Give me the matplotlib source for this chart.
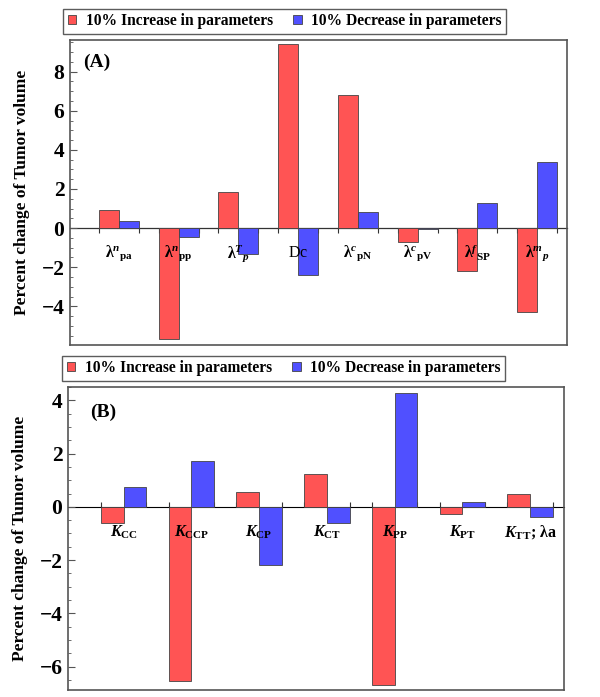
"""Чувствительность объёма опухоли к параметрам: две панели (A) и (B)."""

import matplotlib

matplotlib.use("Agg")

import matplotlib.pyplot as plt
import numpy as np
from matplotlib.ticker import MultipleLocator, AutoMinorLocator

plt.rcParams["font.family"] = ["Liberation Serif", "DejaVu Serif"]
plt.rcParams["mathtext.fontset"] = "custom"
plt.rcParams["mathtext.rm"] = "Liberation Serif"
plt.rcParams["mathtext.it"] = "Liberation Serif:italic:bold"
plt.rcParams["mathtext.bf"] = "Liberation Serif:bold"

# --- данные ---
labels_a = [
    r"$\mathbf{\lambda}^{n}{}_{\mathbf{pa}}$",
    r"$\mathbf{\lambda}^{n}{}_{\mathbf{pp}}$",
    r"$\mathbf{\lambda}^{T}{}_{p}$",
    r"$\mathrm{Dc}$",
    r"$\mathbf{\lambda}^{c}{}_{\mathbf{pN}}$",
    r"$\mathbf{\lambda}^{c}{}_{\mathbf{pV}}$",
    r"$\mathbf{\lambda}^{f}{}_{\mathbf{SP}}$",
    r"$\mathbf{\lambda}^{m}{}_{p}$",
]
increase_a = [0.92, -5.65, 1.85, 9.4, 6.79, -0.73, -2.2, -4.28]
decrease_a = [0.35, -0.48, -1.3, -2.4, 0.82, -0.04, 1.30, 3.38]

labels_b = [
    r"$K_{\mathbf{CC}}$",
    r"$K_{\mathbf{CCP}}$",
    r"$K_{\mathbf{CP}}$",
    r"$K_{\mathbf{CT}}$",
    r"$K_{\mathbf{PP}}$",
    r"$K_{\mathbf{PT}}$",
    r"$K_{\mathbf{TT}}$; λa",
]
increase_b = [-0.6, -6.55, 0.55, 1.25, -6.68, -0.27, 0.5]
decrease_b = [0.73, 1.72, -2.18, -0.6, 4.28, 0.19, -0.37]

legend_labels = ["10% Increase in parameters", "10% Decrease in parameters"]

RED = "#ff5454"
BLUE = "#5050ff"
FRAME = "#555555"


def draw_panel(ax, labels, inc, dec, ylim, tag, tag_pos, legend_x):
    n = len(labels)
    x = np.arange(n)
    w = 0.335

    b1 = ax.bar(x - w / 2, inc, w, color=RED, edgecolor="#444444", linewidth=0.6,
                label=legend_labels[0], zorder=2)
    b2 = ax.bar(x + w / 2, dec, w, color=BLUE, edgecolor="#444444", linewidth=0.6,
                label=legend_labels[1], zorder=2)

    ax.set_xlim(-0.82, n - 0.5)
    ax.set_ylim(*ylim)
    ax.set_xticks([])

    ax.yaxis.set_major_locator(MultipleLocator(2))
    ax.yaxis.set_minor_locator(AutoMinorLocator(4))
    ax.tick_params(axis="y", which="major", direction="in", length=5, width=0.8,
                   color=FRAME, labelsize=15.5, pad=4)
    ax.tick_params(axis="y", which="minor", direction="in", length=2.5, width=0.6,
                   color=FRAME)
    for lab in ax.get_yticklabels():
        lab.set_fontweight("bold")

    for sp in ax.spines.values():
        sp.set_color(FRAME)
        sp.set_linewidth(1.2)

    # ось x на уровне нуля с засечками на краях групп
    frac = (0 - ylim[0]) / (ylim[1] - ylim[0])
    sec = ax.secondary_xaxis(frac)
    edges = np.concatenate([x - w, x + w])
    sec.set_xticks(sorted(edges))
    sec.set_xticklabels([])
    sec.tick_params(direction="out", length=3.5, width=0.8, color="#333333")
    sec.spines["bottom"].set_color("#333333")
    sec.spines["bottom"].set_linewidth(0.9)

    for xi, lab in zip(x, labels):
        ax.annotate(lab, xy=(xi, 0), xytext=(0, -18), textcoords="offset points",
                    ha="center", va="center", fontsize=11.5, fontweight="bold", zorder=5)

    ax.text(tag_pos[0], tag_pos[1], tag, transform=ax.transAxes, fontsize=14,
            fontweight="bold", va="center", ha="left")

    ax.set_ylabel("Percent change of Tumor volume", fontsize=12.5, fontweight="bold")
    ax.yaxis.set_label_coords(-0.08, 0.5)

    leg = ax.legend(handles=[b1, b2], loc="lower left", bbox_to_anchor=(legend_x, 1.02),
                    ncol=2, prop={"size": 11.2, "weight": "bold"}, frameon=True,
                    fancybox=False, handlelength=0.55, handleheight=0.55,
                    handletextpad=0.6, columnspacing=1.3, borderpad=0.3,
                    borderaxespad=0)
    leg.get_frame().set_edgecolor("#333333")
    leg.get_frame().set_linewidth(1.0)


fig = plt.figure(figsize=(6, 6.97), dpi=100)

ax_a = fig.add_axes([70 / 600, 1 - 345 / 697, 497 / 600, 305 / 697])
draw_panel(ax_a, labels_a, increase_a, decrease_a, (-5.98, 9.62), "(A)",
           (0.027, 0.928), -0.014)

ax_b = fig.add_axes([68 / 600, 1 - 690 / 697, 496 / 600, 303 / 697])
draw_panel(ax_b, labels_b, increase_b, decrease_b, (-6.88, 4.5), "(B)",
           (0.044, 0.917), -0.012)

plt.savefig("out.png", dpi=100)
plt.close(fig)
